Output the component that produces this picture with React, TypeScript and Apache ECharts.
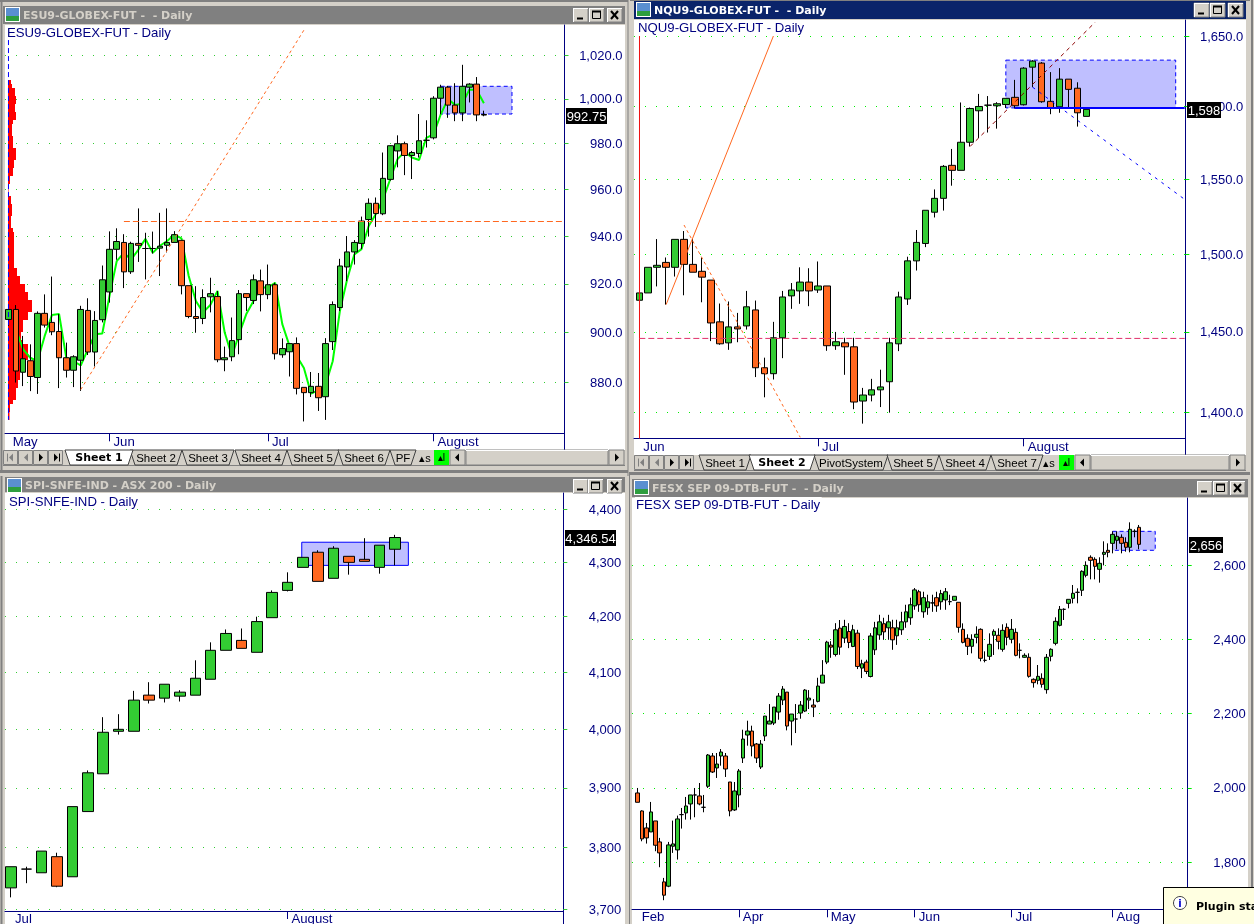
import React, { useEffect, useRef } from "react";
import * as echarts from "echarts";

// ---------- DATA (prices) : [open, close, low, high] ----------
const esOhlc = [
[905.3,909.4,902.7,911.2],[909.4,884.5,879.9,911.2],[884,889.4,878.5,898.6],[888.6,882.3,876.5,895.2],[881.9,907.8,875.4,908.6],
[907.8,903,902,915.6],[904.1,900.3,898.9,923],[900.4,889.8,877.7,907.5],[889.8,884.8,881.9,895.9],[884.8,890.2,878.1,890.8],
[888.8,909.4,876.6,910.9],[909,892.1,890.9,914],[892.1,904.9,886.3,908.7],[905.2,921.65,904.1,927.6],[916.6,934.4,912.2,942],
[934.4,937.7,930,943.3],[937.3,924.95,918.2,940.8],[925,936.9,924.1,937.6],[936.9,936.1,929.1,951.8],[934.75,934.75,921.8,941.4],
[934.75,934.75,932.6,941.9],[934.9,935.7,923.2,949.9],[936.1,937.3,933.1,951.8],[937.3,940.6,937.3,942.1],[938.2,919.2,915.6,938.2],
[919.2,906.5,905.8,919.2],[906.5,905.7,899.9,919],[905.7,914.3,903.4,917.7],[914.6,915.9,908.2,922.5],[914.7,889,888,917],
[889,889.8,884.4,894.3],[890.2,896.7,888.4,906.1],[897.1,915.9,891.2,917.4],[915.9,914.3,908.8,915.9],[913.1,921.65,911.6,923.85],
[921.2,915.5,908.6,925.9],[915.5,919.6,913.6,928],[919.6,891.4,889.1,920.4],[891,893.5,889.8,897.6],[892.2,895.5,882.3,895.5],
[895.5,877.6,875.2,898],[878,875.9,864.6,878],[875.9,878.4,874.2,884.1],[878.4,873.9,868.7,883.7],[874.3,895.5,865.2,897.7],
[896.3,911.4,892.9,912.7],[910.2,927.4,908.8,930.4],[927,933.3,921.1,940],[933.3,937.3,928,938.3],[936.9,946.4,934.5,948.3],
[947.05,954,940,956.1],[954,949.6,943.9,956.5],[949.5,964.8,948.9,976.1],[964.35,979.1,963.8,979.3],[976.8,980,969.6,983.7],
[980,974.8,966.2,980.9],[974.8,976.1,964.5,976.8],[975.7,981.3,973.9,993.2],[981.5,981.5,978.3,990.4],[982.6,1000.3,981.9,1001.2],
[1000.3,1005.3,993.1,1006.4],[1005.3,997.2,991.5,1005.9],[997.2,993.7,990,1007.1],[993.7,1005.7,990,1015.5],[1005.3,1006.7,998.4,1007.1],
[1006.7,992.8,990,1009.9],[993,992.75,992.2,994.7],
];
const esAverage = [null,901.4,893.2,889.8,888.4,898.6,907.1,907.5,889.8,888.4,886.7,893.2,899.3,899.6,915,929.4,932.9,930.1,934.2,938.8,932.9,935.9,937.9,940.6,939,923.2,912.9,908.2,911.2,917,900,890.5,899.3,907.5,912.9,918.4,918.4,920.4,903.4,894.6,890.5,885.7,875.5,876.9,878.9,888.4,908.8,921.8,932.2,934.5,944.3,949.4,955.8,964.5,973.2,976.4,973.9,972.8,982.6,984.1,993,999.9,997.3,997.8,1004.3,1004,998];
const esProfile = [3,4,7,7,8,8,7,7,8,8,5,4,4,4,5,5,5,8,8,8,6,6,5,5,2,2,0.5,0.5,0.5,3,3,4,4,4,3,3,3,5,6,6,6,6,6,6,6,6,6,9,9,12,12,17,17,20,20,24,24,24,20,20,15,15,15,13,13,15,20,20,20,20,17,17,17,12,12,10,10,8,8,8,5,2,2,1.5,1.5];
const esTicks = [880,900,920,940,960,980,1000,1020];
const esMonths: [number, string][] = [[0,"May"],[14,"Jun"],[36,"Jul"],[59,"August"]];

const nqOhlc = [
[1470.2,1474.9,1469.6,1476],[1474.9,1491.5,1474.9,1491.5],[1491.5,1492.8,1479.1,1510],[1494.7,1491.5,1467.4,1497.9],[1491.5,1509.8,1485.5,1509.8],
[1509.8,1493.4,1473.4,1515.3],[1493.4,1488.3,1488.3,1510],[1488.9,1485.1,1468.9,1497.9],[1483.2,1455.7,1444.2,1483.2],[1456.4,1442.5,1441.9,1468.1],
[1443.1,1453.2,1438.7,1469.4],[1453.2,1451.9,1443.5,1462.1],[1453.8,1466,1451.5,1476.2],[1464,1427.5,1421.7,1470],[1427.5,1423.8,1409.2,1433.8],
[1423.8,1446.3,1420.2,1456.4],[1446.3,1472.3,1433.5,1476.2],[1473,1476.8,1464.7,1481.3],[1476.2,1481.9,1467.9,1491.5],[1481.9,1476.2,1466.4,1490.9],
[1476.8,1479.4,1474.9,1495.3],[1479.4,1441.3,1438.1,1479.4],[1441.3,1443.8,1438.7,1450],[1443.1,1440.6,1423.1,1446.3],[1440.6,1406.3,1401.9,1446.3],
[1406.9,1410.6,1393.1,1415],[1410.6,1413.8,1406.7,1420.6],[1413.8,1415.6,1403.2,1426.3],[1418.8,1443.1,1399.8,1446.3],[1442.5,1472.3,1437.9,1475.7],
[1471,1495.7,1467.2,1498.4],[1495.7,1507.8,1489.4,1516],[1507.1,1529.1,1504.7,1529.1],[1527.8,1537.1,1524.3,1543.1],[1537.1,1558.7,1528.9,1559.6],
[1559.4,1556,1545.6,1570.6],[1556,1575.2,1556,1602.8],[1575.2,1598.6,1572.3,1599.3],[1597,1600,1578,1608.8],[1600.9,1600.9,1581.9,1607.3],
[1600.5,1601.9,1584.6,1603],[1601.4,1605.7,1599,1605.7],[1606.4,1600.5,1598.6,1618.7],[1601.2,1627,1600.7,1627.7],[1627.7,1632,1613.5,1632.7],
[1630.6,1603.3,1602.6,1631.3],[1603.6,1599.1,1594.6,1624.2],[1599.8,1619.2,1595.6,1627],[1619.2,1612,1598.6,1619.2],[1612.8,1595.6,1586,1617],
[1593.1,1598,1593.1,1598],
];
const nqTicks = [1400,1450,1500,1550,1600,1650];
const nqMonths: [number, string][] = [[0,"Jun"],[20,"Jul"],[43,"August"]];

const spiOhlc = [
[3734.5,3768.9,3719.2,3768.9],[3765,3765,3742.1,3768.9],[3759,3794.5,3759,3794.5],[3785.3,3737.2,3735.6,3791.8],[3752.5,3868.3,3752.5,3868.3],
[3860,3925.4,3860,3929.4],[3923.7,3994.9,3923.7,4021.1],[3996.6,4000,3990.9,4026.3],[3996.6,4050.9,3996.6,4067.2],[4059.7,4050.9,4045,4082.5],
[4054.4,4078.9,4046.8,4078.9],[4057.9,4064.9,4048.5,4068.4],[4059.6,4089.5,4059.6,4121.4],[4087.7,4139.3,4087.7,4153.6],[4139.3,4169.6,4139.3,4176.8],
[4157.1,4142.8,4142.8,4178.6],[4135.7,4191.1,4135.7,4200],[4198.2,4244.4,4198.2,4248.1],[4248.1,4263,4246.2,4281.5],[4290.7,4309.4,4290.7,4309.4],
[4318.9,4264.8,4264.8,4322.6],[4270.4,4326.4,4270.4,4330.2],[4311.3,4300,4277.2,4311.3],[4305.7,4301.9,4301.9,4345.3],[4290.7,4332.1,4279,4332.1],
[4324.5,4346.54,4294.4,4351.6],
];
const spiTicks = [3700,3800,3900,4000,4100,4200,4300,4400];
const spiMonths: [number, string][] = [[0,"Jul"],[18,"August"]];

const fesxOhlc = [
[1986.6,1961.5,1961.5,2000],[1938.2,1862.9,1856.6,1940],[1892.5,1865.6,1850.4,1905.9],[1881.7,1935.5,1881.7,1962.4],[1911.3,1845.9,1829.8,1911.3],
[1854.8,1825.3,1786.8,1865.6],[1747.3,1711.5,1698,1758],[1735.7,1846.8,1733,1854.8],[1843.2,1849.5,1825.3,1912.2],[1833.3,1916.7,1807.4,1925.6],
[1928.3,1928.3,1890.7,1946.2],[1932.8,1951.6,1914.9,1975.8],[1957,1981.2,1914.9,1981.2],[1981.2,1981.2,1921.2,2000],[1978.5,1957,1953.4,2013.4],
[1948,1948,1934.6,1981.2],[2004.5,2088.7,2000,2091.4],[2086,2043,2040.3,2094.1],[2053.8,2064.5,2026.9,2094.1],[2086,2096.8,2060,2104.8],
[2086,2051.1,2029.6,2094.1],[2016.1,1938.2,1923.8,2016.1],[1940.9,1991.9,1938.2,2016.1],[1981.2,2045.7,1948,2051.1],[2080.6,2131.7,2067.2,2156.8],
[2142.5,2153.2,2113.8,2181],[2153.2,2112.9,2085.1,2167.6],[2118.3,2080.6,2067.2,2121],[2056.4,2118.3,2051.1,2129],[2139.8,2193.5,2126.3,2193.5],
[2172,2180.1,2172,2225.8],[2174.7,2217.7,2169.3,2217.7],[2204.3,2247.3,2183.7,2255.4],[2236.5,2266.1,2223.1,2274.2],[2258,2166.7,2155,2258],
[2180.1,2198.9,2114.7,2198.9],[2185.5,2185.5,2147.8,2225.8],[2201.6,2223.1,2186.4,2233.9],[2207,2263.4,2204.3,2266.1],[2236.5,2241.9,2212.4,2263.4],
[2223.1,2217.7,2190.8,2239.2],[2233,2274.2,2230.3,2296.6],[2282.2,2303.7,2282.2,2344],[2338.7,2392.4,2333.3,2396],[2384.4,2379,2350.3,2395],
[2359.3,2425.6,2353.9,2443.5],[2430,2379,2358.4,2452],[2403.3,2434.6,2389.8,2452.5],[2421,2391.5,2376.3,2443.5],[2380.8,2425.6,2379,2439],
[2416.6,2327,2319.9,2425.6],[2322.6,2334.2,2295.7,2345],[2338.7,2313.6,2306.4,2345],[2300,2409,2297.5,2416.6],[2371.8,2431,2358,2447],
[2412,2447,2398.7,2466],[2442,2420,2398.7,2458],[2431,2447,2398.7,2466],[2431,2398.7,2371.8,2452.6],[2409.5,2431,2385,2452.6],
[2425.7,2447,2412,2474],[2447,2474,2431,2493],[2458,2493,2439,2512],[2490,2533,2479.5,2538],[2528,2493,2474,2533],
[2474,2512,2458,2528],[2485,2501,2466,2520],[2498,2498,2474,2520],[2512,2490,2474,2528],[2501,2523,2479.5,2533],
[2506,2528,2479.5,2538],[2501.4,2501.4,2492,2520],[2505,2515.7,2505,2515.7],[2499.6,2432.3,2418,2499.6],[2426.9,2391.9,2389.2,2443],
[2402.7,2381.2,2357.8,2413.5],[2381.2,2400,2362.3,2413.5],[2405.4,2413.5,2389.2,2435],[2426.9,2348.9,2340.8,2429.6],[2343.5,2343.5,2338.1,2367.7],
[2354.3,2386.5,2344.4,2416.1],[2410.8,2421.5,2357.8,2426.9],[2410.8,2394.6,2373.1,2429.6],[2373.1,2424.2,2366.8,2440.4],[2432.3,2405.4,2383.9,2443],
[2400,2426.9,2389.2,2454.7],[2418.8,2356.9,2354.3,2429.6],[2370.4,2370.4,2348.9,2389.2],[2351.6,2356.9,2350.7,2362.3],[2351.6,2300.4,2296.8,2362.3],
[2292.4,2283.4,2270,2295],[2289.7,2300.4,2278.9,2330.9],[2295,2278.9,2270,2308.5],[2264.6,2351.6,2253.8,2360.5],[2354.3,2373.1,2340.8,2375.8],
[2389.2,2448.4,2383.9,2459.2],[2437.7,2480.7,2435,2489.7],[2480.7,2480.7,2452,2483.4],[2496.9,2507.6,2483.4,2507.6],[2510.3,2523.8,2496.9,2546.2],
[2526.5,2526.5,2496.9,2537.2],[2531.9,2583,2516.6,2585.7],[2572.2,2599.1,2566.8,2609.9],[2620.7,2612.6,2561.4,2626],[2615.3,2596.4,2561.4,2620.7],
[2588.4,2604.5,2552.5,2620.7],[2628.7,2634.1,2599.1,2663.7],[2639.5,2634.1,2620.7,2658.3],[2658.3,2682.5,2631.4,2690.6],[2666.4,2677.2,2642.2,2690.6],
[2674.5,2658.3,2631.4,2682.5],[2661,2647.6,2635.9,2674.5],[2647.6,2696,2634.1,2714.8],[2690.6,2690.6,2674.5,2696],[2701.4,2655.6,2642.2,2707.7],
];
const fesxTicks = [1800,2000,2200,2400,2600];
const fesxMonths: [number, string][] = [[0,"Feb"],[23,"Apr"],[43,"May"],[63,"Jun"],[85,"Jul"],[108,"Aug"]];

// ---------- STYLE ----------
const NAVY = "#000080";
const GREEN_UP = "#33CC33";
const ORANGE = "#FF6820";
const FACE = "#D4D0C8";
const ZONE = "#BFBFFF";
const SANS = "'Liberation Sans', Arial, sans-serif";
const BOLD = "'DejaVu Sans', Verdana, sans-serif";

type Pane = {
  title: string; titleX: number; titleY: number;
  left: number; right: number; top: number; bottom: number;
  x0: number; pitch: number; barWidth: number;
  log: boolean; calib: [number, number, number, number];
  ticks: number[]; months: [number, string][]; decimals: number; dots: string; labelMargin: number;
};

const panes: Pane[] = [
  { title: "ESU9-GLOBEX-FUT - Daily", titleX: 7, titleY: 33, left: 5, right: 564.5, top: 25, bottom: 433.3, x0: 8.7, pitch: 7.2, barWidth: 6, log: true, calib: [1020, 55, 880, 382.3], ticks: esTicks, months: esMonths, decimals: 1, dots: "#33CC33", labelMargin: 2 },
  { title: "NQU9-GLOBEX-FUT - Daily", titleX: 638, titleY: 28, left: 634, right: 1185.3, top: 20, bottom: 438.3, x0: 639.3, pitch: 8.94, barWidth: 7, log: true, calib: [1650, 36, 1400, 412.3], ticks: nqTicks, months: nqMonths, decimals: 1, dots: "#00EE00", labelMargin: 2 },
  { title: "SPI-SNFE-IND - Daily", titleX: 9, titleY: 502, left: 5, right: 563.3, top: 493, bottom: 911, x0: 11, pitch: 15.36, barWidth: 11, log: true, calib: [4400, 509.3, 3700, 909.3], ticks: spiTicks, months: spiMonths, decimals: 0, dots: "#33CC33", labelMargin: 1 },
  { title: "FESX SEP 09-DTB-FUT - Daily", titleX: 636, titleY: 505, left: 632, right: 1187.7, top: 498, bottom: 909.3, x0: 637.7, pitch: 4.397, barWidth: 4, log: false, calib: [2600, 565, 1800, 862.3], ticks: fesxTicks, months: fesxMonths, decimals: 0, dots: "#00EE00", labelMargin: 1 },
];

const T = (p: Pane, v: number) => (p.log ? Math.log(v) : v);
const inv = (p: Pane, v: number) => (p.log ? Math.exp(v) : v);
const yAt = (p: Pane, px: number) => {
  const [a, ya, b, yb] = p.calib;
  return T(p, a) + ((px - ya) * (T(p, b) - T(p, a))) / (yb - ya);
};
const xAt = (p: Pane, px: number) => (px - p.x0) / p.pitch;

const candles = (p: Pane, rows: number[][], extra: any = {}) => {
  const idx = panes.indexOf(p);
  return {
    type: "candlestick", xAxisIndex: idx, yAxisIndex: idx, barWidth: p.barWidth, z: 3, silent: true,
    data: rows.map((r, i) => [i, T(p, r[0]), T(p, r[1]), T(p, r[2]), T(p, r[3])]),
    itemStyle: { color: GREEN_UP, color0: ORANGE, borderColor: "#000", borderColor0: "#000", borderColorDoji: "#000", borderWidth: 1 },
    ...extra,
  };
};
const trend = (p: Pane, pts: [number, number][], color: string, type: any, width = 1, z = 4) => ({
  type: "line", xAxisIndex: panes.indexOf(p), yAxisIndex: panes.indexOf(p), showSymbol: false, symbol: "none", silent: true, z,
  data: pts.map(([x, v]) => [x, T(p, v)]),
  lineStyle: { color, type, width },
});
const zone = (p: Pane, x1: number, x2: number, hi: number, lo: number, dash: any) => ({
  silent: true, z: 1,
  itemStyle: { color: ZONE, borderColor: "#0000FF", borderWidth: 1, borderType: dash },
  data: [[{ coord: [x1, T(p, hi)] }, { coord: [x2, T(p, lo)] }]],
});

// ---------- WINDOW CHROME ----------
const chrome: any[] = [];
const rect = (x: number, y: number, w: number, h: number, fill: string, z = 100, stroke?: string, lineWidth = 1) =>
  chrome.push({ type: "rect", silent: true, z, shape: { x, y, width: w, height: h }, style: { fill, stroke, lineWidth } });
const seg = (x1: number, y1: number, x2: number, y2: number, stroke: string, z = 100, lineWidth = 1) =>
  chrome.push({ type: "line", silent: true, z, shape: { x1, y1, x2, y2 }, style: { stroke, lineWidth } });
const poly = (points: number[][], fill: string, stroke?: string, z = 100) =>
  chrome.push({ type: "polygon", silent: true, z, shape: { points }, style: { fill, stroke, lineWidth: 1 } });
const label = (text: string, x: number, y: number, fill: string, font: string, align = "left", z = 101) =>
  chrome.push({ type: "text", silent: true, z, x, y, style: { text, fill, font, textAlign: align, textVerticalAlign: "middle" } });

function titleBar(text: string, x: number, y: number, x2: number, h: number, bg: string, fg: string, btn: number[]) {
  rect(x, y, x2 - x, h, bg);
  rect(x + 2, y + 1, 15, 15, "#FFFFFF");
  rect(x + 3, y + 2, 13, 8, "#5A8FD0");
  rect(x + 3, y + 10, 13, 5, "#2E9E3E");
  label(text, x + 20, y + h / 2 + 0.5, fg, `bold 11px ${BOLD}`);
  const by = y + 2, bw = 15, bh = 14;
  btn.forEach((bx, k) => {
    rect(bx, by, bw, bh, FACE, 100, "#808080");
    seg(bx, by + 0.5, bx + bw, by + 0.5, "#FFFFFF");
    seg(bx + 0.5, by, bx + 0.5, by + bh, "#FFFFFF");
    if (k === 0) seg(bx + 4, by + 10.5, bx + 10, by + 10.5, "#000", 102, 2);
    if (k === 1) { rect(bx + 3.5, by + 3.5, 8, 7, "transparent", 102, "#000"); seg(bx + 3, by + 3.5, bx + 12, by + 3.5, "#000", 102, 2); }
    if (k === 2) { seg(bx + 4, by + 3, bx + 11, by + 11, "#000", 102, 2); seg(bx + 11, by + 3, bx + 4, by + 11, "#000", 102, 2); }
  });
}

function tabBar(y: number, x1: number, x2: number, tabs: [string, number, number, boolean][], sMark: number, greenX: number) {
  rect(x1, y, x2 - x1, 15, FACE);
  seg(x1, y + 15.5, x2, y + 15.5, "#808080");
  const nav = [x1, x1 + 15, x1 + 30, x1 + 45];
  nav.forEach((bx, k) => {
    rect(bx + 0.5, y + 0.5, 14, 14, FACE, 100, "#808080");
    const c = k < 2 ? "#808080" : "#000";
    const cx = bx + 8, cy = y + 7.5;
    if (k === 0 || k === 1) poly([[cx + 2, cy - 4], [cx + 2, cy + 4], [cx - 2, cy]], c);
    else poly([[cx - 2, cy - 4], [cx - 2, cy + 4], [cx + 2, cy]], c);
    if (k === 0) seg(cx - 3.5, cy - 4, cx - 3.5, cy + 4, c);
    if (k === 3) seg(cx + 3.5, cy - 4, cx + 3.5, cy + 4, c);
  });
  tabs.filter((t) => !t[3]).concat(tabs.filter((t) => t[3])).forEach(([text, cx, w, active]) => {
    poly([[cx - w / 2 - 6, y], [cx + w / 2 + 6, y], [cx + w / 2 + 1, y + 15], [cx - w / 2 - 1, y + 15]], active ? "#FFFFFF" : FACE, "#404040");
    label(text, cx, y + 7.5, "#000", active ? `bold 11px ${BOLD}` : `11.5px ${SANS}`, "center");
  });
  label("▴s", sMark, y + 7.5, "#000", `11px ${SANS}`, "center");
  rect(greenX, y, 15, 15, "#00FF00");
  label("▴I", greenX + 7.5, y + 7.5, "#000", `10px ${SANS}`, "center");
  const sx = greenX + 15;
  rect(sx + 1, y, 15, 15, FACE, 100, "#808080");
  poly([[sx + 10, y + 3.5], [sx + 10, y + 11.5], [sx + 6, y + 7.5]], "#000");
  rect(sx + 17, y, x2 - sx - 34, 15, FACE, 100, "#808080");
  seg(sx + 17, y + 0.5, x2 - 17, y + 0.5, "#FFFFFF");
  rect(x2 - 16, y, 15, 15, FACE, 100, "#808080");
  poly([[x2 - 10, y + 3.5], [x2 - 10, y + 11.5], [x2 - 6, y + 7.5]], "#000");
}

const priceTag = (text: string, x: number, y: number, w: number) => {
  rect(x, y, w, 16, "#000");
  label(text, x + w / 2, y + 8.5, "#FFF", `13px ${SANS}`, "center");
};

function buildChrome() {
  rect(0, 0, 1254, 924, FACE, -20);
  rect(0, 0, 628, 2, "#808080", -19);
  rect(630, 0, 620, 1, "#808080", -19);
  seg(1.5, 0, 1.5, 472, "#808080", -19, 2);
  seg(628, 0, 628, 476, "#808080", -19, 1);
  rect(0, 470, 628, 3, "#808080", -19);
  seg(1.5, 476, 1.5, 924, "#808080", -19, 2);
  seg(629.5, 472, 629.5, 924, "#808080", -19, 1);
  rect(630, 472, 620, 3, "#808080", -19);
  seg(1252, 0, 1252, 924, "#808080", -19, 2);
  // client areas
  rect(5, 25, 620, 425, "#FFFFFF", -10);
  rect(634, 20, 612, 435, "#FFFFFF", -10);
  rect(5, 493, 620, 431, "#FFFFFF", -10);
  rect(632, 498, 616, 426, "#FFFFFF", -10);

  titleBar("ESU9-GLOBEX-FUT -  - Daily", 3, 6, 625, 18, "#808080", FACE, [573, 589, 607]);
  titleBar("NQU9-GLOBEX-FUT -  - Daily", 634, 1, 1246, 18, "#0A246A", "#FFFFFF", [1194, 1210, 1228]);
  titleBar("SPI-SNFE-IND - ASX 200 - Daily", 5, 477, 625, 15, "#808080", FACE, [573, 588, 607]);
  titleBar("FESX SEP 09-DTB-FUT -  - Daily", 632, 479, 1248, 18, "#808080", FACE, [1197, 1213, 1230]);

  // axis lines continuing below the date axis
  seg(564.5, 433, 564.5, 450, NAVY, 5);
  seg(1185.5, 438, 1185.5, 455, NAVY, 5);
  seg(563.5, 911, 563.5, 924, NAVY, 5);
  seg(1187.5, 909, 1187.5, 924, NAVY, 5);

  tabBar(450, 3, 625, [["Sheet 1", 99, 56, true], ["Sheet 2", 156, 40, false], ["Sheet 3", 208, 40, false], ["Sheet 4", 261, 40, false], ["Sheet 5", 313, 40, false], ["Sheet 6", 364, 40, false], ["PF", 403, 14, false]], 425, 434);
  tabBar(455, 634, 1246, [["Sheet 1", 725, 40, false], ["Sheet 2", 782, 54, true], ["PivotSystem", 851, 62, false], ["Sheet 5", 913, 40, false], ["Sheet 4", 965, 40, false], ["Sheet 7", 1017, 40, false]], 1049, 1059);

  priceTag("992.75", 566, 108, 41);
  priceTag("1,598", 1187, 102, 34);
  priceTag("4,346.54", 565, 530, 51);
  priceTag("2,656", 1189, 537, 34);

  // notification balloon
  rect(1163.5, 887.5, 120, 60, "#FFFFE1", 120, "#000");
  chrome.push({ type: "circle", silent: true, z: 121, shape: { cx: 1180, cy: 903, r: 6.5 }, style: { fill: "#FFFFFF", stroke: "#404040", lineWidth: 1 } });
  label("i", 1180, 903, "#0000CC", `bold 10px ${BOLD}`, "center", 122);
  label("Plugin status", 1196, 906, "#000", `bold 11px ${BOLD}`, "left", 122);
}

export default function App() {
  const ref = useRef<HTMLDivElement>(null);
  useEffect(() => {
    document.body.style.margin = "0";
    document.body.style.overflow = "hidden";
    const chart = echarts.init(ref.current!, undefined, { renderer: "svg" });
    chrome.length = 0;
    buildChrome();
    const [es, nq, spi, fesx] = panes;

    const grids: any[] = panes.map((p) => ({ left: p.left, top: p.top, width: p.right - p.left, height: p.bottom - p.top, show: false, containLabel: false, outerBoundsMode: "none" }));
    const xAxes: any[] = panes.map((p, i) => ({
      type: "value", gridIndex: i, position: "bottom", min: xAt(p, p.left), max: xAt(p, p.right),
      splitLine: { show: false },
      axisLine: { show: true, onZero: false, lineStyle: { color: NAVY, width: 1 } },
      axisTick: { show: true, length: 8, lineStyle: { color: NAVY }, customValues: p.months.map((m) => m[0]).filter((m) => m > 0) },
      axisLabel: {
        show: true, customValues: p.months.map((m) => m[0]), align: "left", margin: p.labelMargin, padding: [0, 0, 0, 4],
        color: NAVY, fontFamily: SANS, fontSize: 13.2, hideOverlap: false, showMinLabel: true, showMaxLabel: true,
        formatter: (v: number) => (p.months.find((m) => m[0] === Math.round(v)) || [0, ""])[1],
      },
    }));
    const yAxes: any[] = panes.map((p, i) => {
      const vals = p.ticks.map((t) => T(p, t));
      return {
        type: "value", gridIndex: i, position: "right", min: yAt(p, p.bottom), max: yAt(p, p.top), scale: true,
        axisLine: { show: true, onZero: false, lineStyle: { color: NAVY, width: 1 } },
        axisTick: { show: true, length: 4, lineStyle: { color: p.dots }, customValues: vals },
        axisLabel: {
          show: true, customValues: vals, align: "right", margin: 58, color: NAVY, fontFamily: SANS, fontSize: 13, showMinLabel: true, showMaxLabel: true, hideOverlap: false,
          formatter: (v: number) => Math.round(inv(p, v)).toLocaleString("en-US", { minimumFractionDigits: p.decimals, maximumFractionDigits: p.decimals }),
        },
        splitLine: { show: true, lineStyle: { color: p.dots, type: [1, 10], width: 1 } },
      };
    });
    // volume profile panel of the first window
    grids.push({ left: 8, top: 80, width: 100, height: 340, show: false, containLabel: false, outerBoundsMode: "none" });
    xAxes.push({ type: "value", gridIndex: 4, min: 0, max: 100, show: false });
    yAxes.push({ type: "category", gridIndex: 4, inverse: true, show: false, data: esProfile.map((_, i) => String(i)) });

    const series: any[] = [
      { type: "bar", xAxisIndex: 4, yAxisIndex: 4, data: esProfile, barWidth: "100%", barCategoryGap: 0, itemStyle: { color: "#FF0000" }, silent: true, z: 1 },
      candles(es, esOhlc, { markArea: zone(es, 60, 69.9, 1005.7, 993.2, [4, 3]) }),
      trend(es, esAverage.map((v, i) => [i, v]).filter((d) => d[1] !== null) as [number, number][], "#00FF00", "solid", 2, 2),
      trend(es, [[-0.03, 1026.9], [-0.03, 865.3]], "#0000FF", [5, 3]),
      trend(es, [[10, 877.1], [41, 1031.5]], ORANGE, [3, 3]),
      trend(es, [[16, 946.2], [77, 946.2]], ORANGE, [6, 3]),

      candles(nq, nqOhlc, { markArea: zone(nq, 41, 60, 1632.7, 1599, [4, 3]) }),
      trend(nq, [[0.022, 1650], [0.022, 1384]], "#EE1111", "solid"),
      trend(nq, [[3, 1467.4], [15, 1650]], ORANGE, "solid"),
      trend(nq, [[5, 1519.3], [18, 1384.8]], ORANGE, [3, 3]),
      trend(nq, [[37, 1572.3], [51, 1660]], "#8B0000", [4, 4]),
      trend(nq, [[44, 1613.5], [61, 1536.4]], "#0000FF", [3, 5]),
      trend(nq, [[42, 1598.9], [61, 1598.9]], "#0000FF", "solid", 2),
      trend(nq, [[0, 1445.9], [61, 1445.9]], "#E0306A", [6, 3]),

      candles(spi, spiOhlc, { markArea: zone(spi, 18.93, 25.87, 4337.7, 4294.4, "solid") }),
      candles(fesx, fesxOhlc, { markArea: zone(fesx, 108, 117.7, 2690.6, 2639.5, [4, 3]) }),
    ];

    chart.setOption({
      animation: false,
      backgroundColor: "transparent",
      title: panes.map((p) => ({
        text: p.title, left: p.titleX - 1, top: p.titleY - 8, padding: [0, 1, 0, 1], backgroundColor: "#FFFFFF", z: 6,
        textStyle: { color: NAVY, fontFamily: SANS, fontSize: 13.2, fontWeight: "normal", lineHeight: 15 },
      })),
      grid: grids, xAxis: xAxes, yAxis: yAxes, series,
      graphic: { elements: chrome },
    });
    return () => chart.dispose();
  }, []);
  return <div ref={ref} style={{ position: "fixed", left: 0, top: 0, width: 1254, height: 924 }} />;
}
